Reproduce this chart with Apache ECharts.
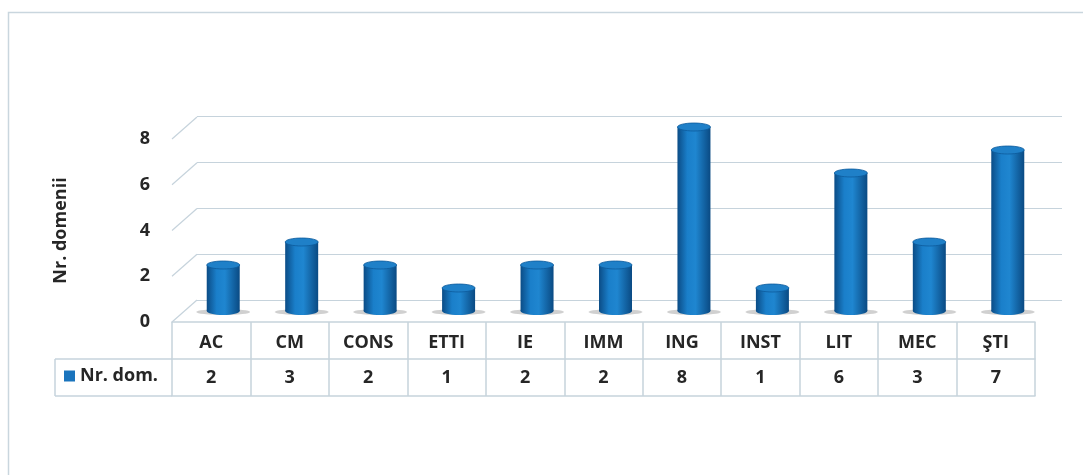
<!DOCTYPE html>
<html><head><meta charset="utf-8">
<script src="https://cdn.jsdelivr.net/npm/echarts@6/dist/echarts.min.js"></script>
<style>html,body{margin:0;padding:0;background:#fff}#c{width:1083px;height:475px}</style>
</head><body><div id="c"></div>
<script>
const categories = ['AC','CM','CONS','ETTI','IE','IMM','ING','INST','LIT','MEC','ŞTI'];
const values = [2,3,2,1,2,2,8,1,6,3,7];
const seriesName = 'Nr. dom.';
const yAxisTitle = 'Nr. domenii';
const yTicks = [0,2,4,6,8];

const FONT = 'Open Sans';
const GRID_COLOR = '#c6d3dc';
const TEXT = '#262626';

const chart = echarts.init(document.getElementById('c'), null, {renderer:'canvas'});

function barItem(params, api){
  const x = api.value(0), v = api.value(1);
  const top = api.coord([x, v]);
  const base = api.coord([x, 0]);
  const w = 33, rx = w/2, ry = 4;
  const grad = new echarts.graphic.LinearGradient(0,0,1,0,[
    {offset:0, color:'#0b4c86'},
    {offset:0.3, color:'#1a7fca'},
    {offset:0.55, color:'#1f86d0'},
    {offset:1, color:'#0a4a83'}
  ]);
  return {type:'group', children:[
    {type:'ellipse', shape:{cx:top[0], cy:base[1]+1, rx:27, ry:3}, style:{fill:'rgba(120,120,120,0.35)'}},
    {type:'ellipse', shape:{cx:top[0], cy:base[1], rx:rx, ry:ry}, style:{fill:grad}},
    {type:'rect', shape:{x:top[0]-rx, y:top[1], width:w, height:base[1]-top[1]}, style:{fill:grad}},
    {type:'ellipse', shape:{cx:top[0], cy:top[1], rx:rx, ry:ry}, style:{fill:'#1f80c8', stroke:'#0d5a9c', lineWidth:0.8}}
  ]};
}

function diagItem(params, api){
  const p = api.coord([0, api.value(1)]);
  const x0 = params.coordSys.x;
  return {type:'line', shape:{x1:x0, y1:p[1], x2:x0+25, y2:p[1]-22}, style:{stroke:GRID_COLOR, lineWidth:1.2}};
}

const option = {
  animation:false,
  backgroundColor:'#ffffff',
  grid:[
    {left:184, right:36, top:127, bottom:164},
    {left:197, right:21, top:116, bottom:175},
    {left:172, right:48, top:139, bottom:153}
  ],
  xAxis:[
    {type:'category', gridIndex:0, data:categories, show:false},
    {type:'category', gridIndex:1, data:categories, show:false},
    {type:'category', gridIndex:2, data:categories, position:'bottom',
      axisLine:{show:true, lineStyle:{color:GRID_COLOR, width:1.5}},
      axisTick:{show:true, interval:0, length:74, lineStyle:{color:GRID_COLOR, width:1.5}},
      axisLabel:{interval:0, margin:12, fontSize:18, fontFamily:FONT, fontWeight:700, color:TEXT},
      splitLine:{show:false}},
    {type:'category', gridIndex:2, data:categories, position:'bottom', offset:37,
      axisLine:{show:true, lineStyle:{color:GRID_COLOR, width:1.5}},
      axisTick:{show:false},
      axisLabel:{interval:0, margin:10, fontSize:18, fontFamily:FONT, fontWeight:700, color:TEXT,
        formatter:(v,i)=>String(values[i])}},
    {type:'category', gridIndex:2, data:categories, position:'bottom', offset:74,
      axisLine:{show:true, lineStyle:{color:GRID_COLOR, width:1.5}},
      axisTick:{show:false}, axisLabel:{show:false}}
  ],
  yAxis:[
    {type:'value', gridIndex:0, min:0, max:8, interval:2, show:false},
    {type:'value', gridIndex:1, min:0, max:8, interval:2,
      axisLine:{show:false}, axisTick:{show:false}, axisLabel:{show:false},
      splitLine:{show:true, lineStyle:{color:GRID_COLOR, width:1.2}}},
    {type:'value', gridIndex:2, min:0, max:8, interval:2,
      axisLine:{show:false}, axisTick:{show:false}, splitLine:{show:false},
      axisLabel:{margin:22, fontSize:18, fontFamily:FONT, fontWeight:700, color:TEXT},
      name:yAxisTitle, nameLocation:'middle', nameGap:102,
      nameTextStyle:{fontSize:18, fontFamily:FONT, fontWeight:700, color:TEXT}}
  ],
  legend:{show:true, data:[seriesName], left:64, top:367, padding:0, icon:'rect',
    itemWidth:11, itemHeight:11, itemGap:6,
    textStyle:{fontSize:18, fontFamily:FONT, fontWeight:700, color:TEXT}},
  series:[
    {type:'custom', name:'grid-diagonals', xAxisIndex:2, yAxisIndex:2, silent:true, z:1,
      data:yTicks.map(t=>[0,t]), renderItem:diagItem},
    {type:'custom', name:seriesName, xAxisIndex:0, yAxisIndex:0, z:5,
      itemStyle:{color:'#1a74bd'},
      data:values.map((v,i)=>[i,v]), renderItem:barItem}
  ],
  graphic:[
    {type:'rect', silent:true, shape:{x:8.5, y:12.5, width:1100, height:500}, style:{fill:null, stroke:'#c9d6de', lineWidth:1.5}},
    {type:'line', silent:true, shape:{x1:55, y1:359, x2:172, y2:359}, style:{stroke:GRID_COLOR, lineWidth:1.5}},
    {type:'line', silent:true, shape:{x1:55, y1:396, x2:172, y2:396}, style:{stroke:GRID_COLOR, lineWidth:1.5}},
    {type:'line', silent:true, shape:{x1:55, y1:359, x2:55, y2:396}, style:{stroke:GRID_COLOR, lineWidth:1.5}}
  ]
};
chart.setOption(option);
</script>
</body></html>
